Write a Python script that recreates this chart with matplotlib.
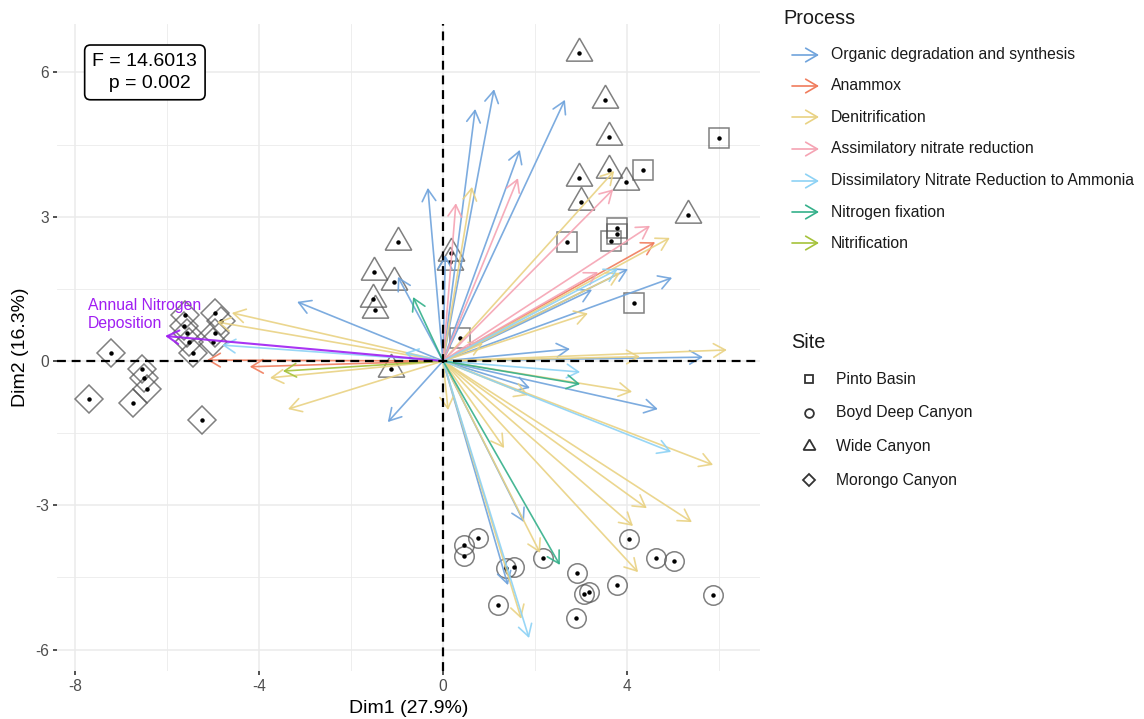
import matplotlib
matplotlib.use('Agg')
import matplotlib.pyplot as plt
from matplotlib.patches import FancyArrowPatch
from matplotlib.lines import Line2D

plt.rcParams['font.family'] = ['Liberation Sans', 'DejaVu Sans']
plt.rcParams['axes.unicode_minus'] = False

# site scores on the first two dimensions
pinto_x = [6.00, 4.35, 2.70, 3.78, 3.78, 3.65, 4.15, 0.37]
pinto_y = [4.64, 3.97, 2.47, 2.77, 2.64, 2.50, 1.21, 0.48]

boyd_x = [0.46, 0.77, 0.46, 1.37, 1.54, 2.17, 2.91, 3.07, 3.17, 2.89, 1.20, 3.78, 4.04, 4.63, 5.02, 5.87]
boyd_y = [-3.83, -3.69, -4.05, -4.31, -4.28, -4.10, -4.41, -4.84, -4.81, -5.34, -5.08, -4.66, -3.70, -4.10, -4.16, -4.87]

wide_x = [2.96, 3.52, 3.61, 3.61, 2.96, 3.98, 3.00, 5.33, -0.98, -1.50, -1.07, -1.52, -1.48, 0.17, 0.15, -1.13]
wide_y = [6.40, 5.43, 4.66, 3.97, 3.80, 3.72, 3.31, 3.04, 2.47, 1.85, 1.64, 1.29, 1.06, 2.25, 2.06, -0.17]

morongo_x = [-7.70, -7.22, -6.74, -6.54, -6.50, -6.44, -5.24, -5.61, -5.63, -5.57, -5.52, -5.43, -4.96, -4.83, -4.96, -5.00]
morongo_y = [-0.79, 0.17, -0.87, -0.17, -0.35, -0.58, -1.23, 0.96, 0.73, 0.58, 0.40, 0.17, 1.00, 0.83, 0.58, 0.40]

# gene loadings (arrow tips) grouped by process
organic_x = [1.11, 0.70, 2.65, 1.67, -0.33, 0.05, 4.02, 4.98, 3.24, 2.76, 5.65, 1.89, 4.67, 1.76, 1.41, -3.17, -0.98, -1.20]
organic_y = [5.65, 5.24, 5.43, 4.39, 3.60, 2.20, 1.91, 1.73, 1.48, 0.25, 0.08, -0.56, -1.00, -3.35, -4.66, 1.23, 1.75, -1.27]

anammox_x = [4.61, -5.13, -4.20]
anammox_y = [2.47, 0.02, -0.12]

denit_x = [0.63, 3.72, 4.93, 3.85, 3.15, 0.87, 6.17, 4.28, 4.11, 1.85, 0.11, 1.33, 5.87, 4.43, 5.41, 4.13,
           2.11, 4.24, 1.70, -4.59, -4.91, -3.76, -3.37]
denit_y = [3.62, 3.95, 2.56, 1.83, 0.99, 0.37, 0.23, 0.09, -0.64, -0.71, -1.02, -1.81, -2.16, -3.06, -3.35, -3.43,
           -3.99, -4.39, -5.36, 1.00, 0.81, -0.35, -1.00]

assim_x = [0.28, 1.63, 3.70, 4.50, 3.37]
assim_y = [3.28, 3.80, 3.57, 2.81, 1.85]

dnra_x = [3.80, 2.98, 4.96, 1.87, -4.80, -0.83]
dnra_y = [1.91, -0.23, -1.89, -5.76, 0.33, 0.17]

fix_x = [-0.65, 2.98, 2.54]
fix_y = [1.33, -0.48, -4.24]

nitrif_x = [-3.48]
nitrif_y = [-0.21]

deposition_x = [-6.04]
deposition_y = [0.52]

process_names = ['Organic degradation and synthesis', 'Anammox', 'Denitrification',
                 'Assimilatory nitrate reduction', 'Dissimilatory Nitrate Reduction to Ammonia',
                 'Nitrogen fixation', 'Nitrification']
process_colors = ['#6fa3dc', '#f07c5c', '#e9d283', '#f5a3b3', '#8dd2f5', '#34b08a', '#a5c23a']
process_tips = [(organic_x, organic_y), (anammox_x, anammox_y), (denit_x, denit_y),
                (assim_x, assim_y), (dnra_x, dnra_y), (fix_x, fix_y), (nitrif_x, nitrif_y)]

site_names = ['Pinto Basin', 'Boyd Deep Canyon', 'Wide Canyon', 'Morongo Canyon']
site_markers = ['s', 'o', (3, 0, 0), 'D']
site_sizes = [14, 14, 22, 14]
site_xy = [(pinto_x, pinto_y), (boyd_x, boyd_y), (wide_x, wide_y), (morongo_x, morongo_y)]

W, H = 1144, 719
fig = plt.figure(figsize=(W / 100, H / 100), dpi=100)
ax = fig.add_axes([57 / W, 1 - 671 / H, (760 - 57) / W, (671 - 24) / H])

ax.set_xlim(-8.39, 6.89)
ax.set_ylim(-6.445, 7.006)
ax.set_xticks([-8, -4, 0, 4])
ax.set_yticks([-6, -3, 0, 3, 6])
ax.set_xticks([-6, -2, 2, 6], minor=True)
ax.set_yticks([-4.5, -1.5, 1.5, 4.5], minor=True)
ax.grid(True, which='major', color='#ebebeb', lw=1.1)
ax.grid(True, which='minor', color='#ebebeb', lw=0.6)
ax.set_axisbelow(True)
for s in ax.spines.values():
    s.set_visible(False)
ax.tick_params(which='major', length=3, width=1.2, color='#333333', labelcolor='#4d4d4d',
               labelsize=11.2, pad=3)
ax.tick_params(which='minor', length=0)

ax.set_xlabel('Dim1 (27.9%)', fontsize=14, labelpad=4)
ax.set_ylabel('Dim2 (16.3%)', fontsize=14, labelpad=4)

# sample points: open shape with a dot in the middle
for (xs, ys), m, ms in zip(site_xy, site_markers, site_sizes):
    ax.plot(xs, ys, ls='none', marker=m, ms=ms, mfc='none', mec='#555555', mew=1.1, alpha=0.75, zorder=2)
    ax.plot(xs, ys, ls='none', marker='o', ms=2.2, color='black', zorder=2.5)

arrow_style = '->,head_length=0.6,head_width=0.35'


def draw_arrow(x, y, color, lw=1.2):
    ax.annotate('', xy=(x, y), xytext=(0, 0),
                arrowprops=dict(arrowstyle=arrow_style, color=color, lw=lw, alpha=0.9,
                                shrinkA=0, shrinkB=0, mutation_scale=14),
                zorder=3)


for (xs, ys), c in zip(process_tips, process_colors):
    for x, y in zip(xs, ys):
        draw_arrow(x, y, c)

draw_arrow(deposition_x[0], deposition_y[0], '#a01ef2', lw=1.5)
ax.text(-7.72, 0.96, 'Annual Nitrogen\nDeposition', color='#a01ef2', fontsize=11.3,
        ha='left', va='center', linespacing=1.25, zorder=5)

ax.axhline(0, color='black', lw=1.6, ls=(0, (4, 2.6)), zorder=4)
ax.axvline(0, color='black', lw=1.6, ls=(0, (4, 2.6)), zorder=4)

ax.text(-6.48, 6.0, 'F = 14.6013\n  p = 0.002', fontsize=14, ha='center', va='center',
        multialignment='center', linespacing=1.4, zorder=6,
        bbox=dict(boxstyle='round,pad=0.4,rounding_size=0.3', fc='white', ec='black', lw=1.2))


def fx(px):
    return px / W


def fy(py):
    return 1 - py / H


# Process legend
fig.text(fx(783), fy(19), 'Process', fontsize=14.3, ha='left', va='center', color='#1a1a1a')
legend_rows = [55, 86, 117, 149, 181, 212, 243]
for name, c, row in zip(process_names, process_colors, legend_rows):
    fig.add_artist(FancyArrowPatch((fx(792), fy(row)), (fx(819), fy(row)), transform=fig.transFigure,
                                   arrowstyle=arrow_style, color=c, lw=1.2, mutation_scale=14,
                                   shrinkA=0, shrinkB=0))
    fig.text(fx(831), fy(row), name, fontsize=11.3, ha='left', va='center', color='#1a1a1a')

# Site legend
fig.text(fx(791), fy(342), 'Site', fontsize=14.3, ha='left', va='center', color='#1a1a1a')
site_rows = [379, 413, 446, 480]
legend_sizes = [6.3, 6.3, 10, 6.3]
for name, m, ms, row in zip(site_names, site_markers, legend_sizes, site_rows):
    fig.add_artist(Line2D([fx(809)], [fy(row)], transform=fig.transFigure, marker=m, ms=ms,
                          mfc='none', mec='#333333', mew=1.3, ls='none'))
    fig.text(fx(836), fy(row), name, fontsize=11.3, ha='left', va='center', color='#1a1a1a')

fig.savefig('out.png', dpi=100, facecolor='white')
